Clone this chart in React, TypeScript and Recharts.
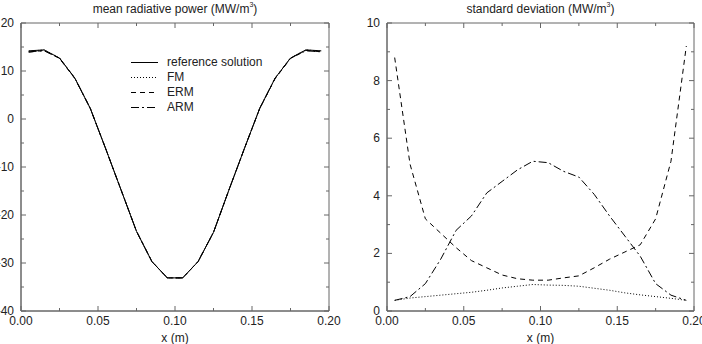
import { Legend, Line, LineChart, ReferenceArea, XAxis, YAxis } from 'recharts'

// cell centres across the slab (m)
const xCells = [
  0.005, 0.015, 0.025, 0.035, 0.045, 0.055, 0.065, 0.075, 0.085, 0.095,
  0.105, 0.115, 0.125, 0.135, 0.145, 0.155, 0.165, 0.175, 0.185, 0.195,
]

// mean radiative power (MW/m3)
const referenceMean = [14.2, 14.4, 12.7, 8.5, 2.2, -6.2, -14.8, -23.4, -29.7, -33.1, -33.1, -29.7, -23.6, -14.8, -6.2, 2.2, 8.5, 12.7, 14.4, 14.2]
const fmMean = [14.1, 14.4, 12.7, 8.5, 2.2, -6.2, -14.8, -23.4, -29.7, -33.1, -33.1, -29.7, -23.6, -14.8, -6.2, 2.2, 8.5, 12.7, 14.4, 14.1]
const ermMean = [13.9, 14.3, 12.6, 8.4, 2.2, -6.2, -14.8, -23.4, -29.7, -33.1, -33.1, -29.7, -23.6, -14.8, -6.2, 2.2, 8.4, 12.6, 14.3, 14.0]
const armMean = [14.0, 14.2, 12.7, 8.5, 2.2, -6.2, -14.8, -23.4, -29.7, -33.1, -33.1, -29.7, -23.6, -14.8, -6.2, 2.2, 8.5, 12.7, 14.2, 14.0]

// standard deviation (MW/m3)
const fmStd = [0.37, 0.45, 0.5, 0.55, 0.6, 0.65, 0.72, 0.8, 0.86, 0.92, 0.9, 0.89, 0.86, 0.79, 0.72, 0.63, 0.56, 0.5, 0.44, 0.37]
const ermStd = [8.8, 5.1, 3.2, 2.7, 2.2, 1.75, 1.5, 1.25, 1.12, 1.07, 1.07, 1.15, 1.22, 1.5, 1.8, 2.05, 2.3, 3.2, 5.2, 9.2]
const armStd = [0.37, 0.5, 0.95, 1.8, 2.8, 3.3, 4.1, 4.5, 4.9, 5.2, 5.15, 4.85, 4.65, 4.05, 3.3, 2.6, 1.9, 0.95, 0.55, 0.37]

const xTicks = [0, 0.025, 0.05, 0.075, 0.1, 0.125, 0.15, 0.175, 0.2]
const meanTicks = [-40, -35, -30, -25, -20, -15, -10, -5, 0, 5, 10, 15, 20]
const stdTicks = [0, 1, 2, 3, 4, 5, 6, 7, 8, 9, 10]

const seriesStyle = [
  { key: 'reference', name: 'reference solution', dash: undefined },
  { key: 'fm', name: 'FM', dash: '1 2' },
  { key: 'erm', name: 'ERM', dash: '5 4' },
  { key: 'arm', name: 'ARM', dash: '8 3 2 3' },
]

const meanRows = xCells.map((x, i) => ({ x, reference: referenceMean[i], fm: fmMean[i], erm: ermMean[i], arm: armMean[i] }))
const stdRows = xCells.map((x, i) => ({ x, fm: fmStd[i], erm: ermStd[i], arm: armStd[i] }))

const FRAME = '#666'
const INK = '#222'
const CHART_W = 351
const CHART_H = 344
const TOP = 23
const X_AXIS_H = 33
const PLOT_H = CHART_H - TOP - X_AXIS_H

const isMultiple = (v: number, step: number) => Math.abs(v / step - Math.round(v / step)) < 1e-6

// inward ticks on bottom and top edges, label only the major ones
const XTick = (props: any) => {
  const { x, y, payload } = props
  const v = payload.value as number
  const major = isMultiple(v, 0.05)
  const len = major ? 5 : 3
  return (
    <g>
      <line x1={x} y1={y} x2={x} y2={y - len} stroke={FRAME} strokeWidth={1} />
      <line x1={x} y1={y - PLOT_H} x2={x} y2={y - PLOT_H + len} stroke={FRAME} strokeWidth={1} />
      {major && (
        <text x={x} y={y + 14} textAnchor="middle" fontSize={12} fill={INK}>
          {v.toFixed(2)}
        </text>
      )}
    </g>
  )
}

// inward ticks on left and right edges
const makeYTick = (plotW: number, step: number) => (props: any) => {
  const { x, y, payload } = props
  const v = payload.value as number
  const major = isMultiple(v, step)
  const len = major ? 5 : 3
  return (
    <g>
      <line x1={x} y1={y} x2={x + len} y2={y} stroke={FRAME} strokeWidth={1} />
      <line x1={x + plotW} y1={y} x2={x + plotW - len} y2={y} stroke={FRAME} strokeWidth={1} />
      {major && (
        <text x={x - 7} y={y + 4} textAnchor="end" fontSize={12} fill={INK}>
          {String(v)}
        </text>
      )}
    </g>
  )
}

const LegendBox = () => (
  <div style={{ fontSize: 12, color: INK }}>
    {seriesStyle.map((s) => (
      <div key={s.key} style={{ display: 'flex', alignItems: 'center', height: 15 }}>
        <svg width={28} height={15}>
          <line x1={0} y1={7.5} x2={27} y2={7.5} stroke="#000" strokeDasharray={s.dash} />
        </svg>
        <span style={{ marginLeft: 8, lineHeight: '15px' }}>{s.name}</span>
      </div>
    ))}
  </div>
)

const Title = ({ text, left, width }: { text: string; left: number; width: number }) => (
  <div style={{ position: 'absolute', top: 2, left, width, textAlign: 'center', fontSize: 12, lineHeight: '14px', color: INK }}>
    {text} (MW/m<sup style={{ fontSize: 7, lineHeight: 0, verticalAlign: 6 }}>3</sup>)
  </div>
)

interface PanelProps {
  rows: any[]
  keys: typeof seriesStyle
  yDomain: [number, number]
  yTicks: number[]
  yMajor: number
  yAxisW: number
  right: number
  legend?: boolean
}

const Panel = ({ rows, keys, yDomain, yTicks, yMajor, yAxisW, right, legend }: PanelProps) => {
  const plotW = CHART_W - yAxisW - right
  return (
    <LineChart width={CHART_W} height={CHART_H} data={rows} margin={{ top: TOP, right, bottom: 0, left: 0 }}>
      {/* plot frame */}
      <ReferenceArea x1={0} x2={0.2} y1={yDomain[0]} y2={yDomain[1]} fill="none" stroke={FRAME} strokeWidth={1} />
      <XAxis
        type="number"
        dataKey="x"
        domain={[0, 0.2]}
        ticks={xTicks}
        interval={0}
        height={X_AXIS_H}
        axisLine={{ stroke: FRAME }}
        tickLine={false}
        tickSize={0}
        tickMargin={0}
        tick={XTick}
        label={{ value: 'x (m)', position: 'insideBottom', offset: 2, fontSize: 12, fill: INK }}
      />
      <YAxis
        type="number"
        domain={yDomain}
        ticks={yTicks}
        interval={0}
        width={yAxisW}
        axisLine={{ stroke: FRAME }}
        tickLine={false}
        tickSize={0}
        tickMargin={0}
        tick={makeYTick(plotW, yMajor)}
      />
      {legend && (
        <Legend
          layout="vertical"
          align="center"
          verticalAlign="middle"
          content={<LegendBox />}
          wrapperStyle={{ left: 131, top: 55, width: 'auto', height: 'auto' }}
        />
      )}
      {keys.map((s) => (
        <Line
          key={s.key}
          type="linear"
          dataKey={s.key}
          name={s.name}
          stroke="#000"
          strokeWidth={1}
          strokeDasharray={s.dash}
          dot={false}
          activeDot={false}
          isAnimationActive={false}
        />
      ))}
    </LineChart>
  )
}

export default function App() {
  return (
    <div style={{ position: 'absolute', left: 0, top: 0, width: 702, height: 344, background: '#fff', fontFamily: '"Liberation Sans", Arial, sans-serif', overflow: 'hidden' }}>
      <div style={{ position: 'absolute', left: 0, top: 0 }}>
        <Panel rows={meanRows} keys={seriesStyle} yDomain={[-40, 20]} yTicks={meanTicks} yMajor={10} yAxisW={21} right={22} legend />
        <Title text="mean radiative power" left={21} width={308} />
      </div>
      <div style={{ position: 'absolute', left: 351, top: 0 }}>
        <Panel rows={stdRows} keys={seriesStyle.slice(1)} yDomain={[0, 10]} yTicks={stdTicks} yMajor={2} yAxisW={36} right={8} />
        <Title text="standard deviation" left={36} width={307} />
      </div>
    </div>
  )
}
